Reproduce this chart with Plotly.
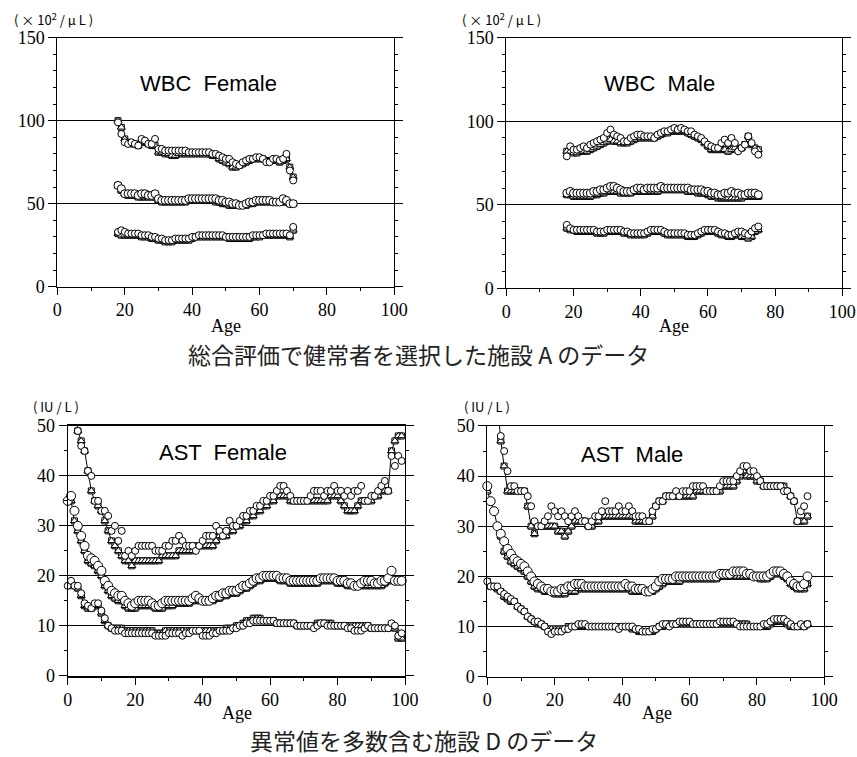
import plotly.graph_objects as go

N = None
# ---------------- WBC Female (facility A) ----------------
wbc_f_age = list(range(18, 71))
wbc_f_up_c = [99,92,87,86,87,86,85,89,88,86,86,89,83,83,82,82,82,82,82,82,82,81,81,81,81,81,81,81,80,80,79,78,77,77,75,74,73,75,76,77,77,78,78,77,75,75,77,77,76,77,80,70,64]
wbc_f_up_s = [100,96,89,87,86,86,85,87,87,86,85,85,81,81,80,80,79,79,80,80,80,80,80,80,80,80,80,80,79,79,77,76,75,74,72,72,73,74,75,76,77,77,77,77,76,76,76,76,75,76,77,72,66]
wbc_f_md_c = [61,59,56,56,56,56,55,56,56,55,55,56,53,52,52,52,52,52,52,52,52,53,53,53,53,53,53,53,53,53,52,52,51,51,50,50,49,49,50,51,51,52,52,52,52,52,51,51,51,53,52,50,50]
wbc_f_md_s = [61,58,56,55,55,55,54,54,54,54,54,54,52,51,51,51,51,51,51,51,51,52,52,52,52,52,52,52,52,51,51,50,50,49,49,49,49,49,49,50,50,51,51,51,51,51,51,51,51,51,51,50,50]
wbc_f_lo_c = [33,34,33,32,32,32,32,31,31,31,30,30,29,29,28,28,28,29,29,29,29,29,30,30,31,31,31,31,31,31,31,31,30,30,30,30,30,30,30,30,31,31,31,31,32,32,32,32,32,32,32,31,36]
wbc_f_lo_s = [32,31,31,31,31,31,31,30,30,30,29,29,28,28,27,27,27,28,28,28,28,28,29,30,30,30,30,30,30,30,30,30,30,29,29,29,29,29,29,29,30,30,30,31,31,31,31,31,31,31,31,30,34]

# ---------------- WBC Male (facility A) ----------------
wbc_m_age = list(range(18, 76))
wbc_m_up_c = [79,85,83,83,84,85,84,86,87,88,89,90,93,95,92,91,90,88,88,90,91,92,92,91,91,91,90,92,93,94,94,95,96,95,96,95,94,94,92,91,90,88,86,85,84,84,87,89,87,90,87,82,84,86,91,87,82,80]
wbc_m_up_s = [82,82,81,81,82,82,82,83,84,85,86,87,88,89,88,88,87,87,87,88,89,90,90,90,90,90,90,91,92,93,93,94,94,94,94,94,93,92,91,90,89,87,85,83,83,83,83,83,82,83,84,83,84,86,91,86,84,83]
wbc_m_md_c = [57,58,57,57,57,57,57,57,58,58,59,59,60,61,61,60,59,58,58,58,59,60,60,59,60,60,60,60,61,60,60,60,60,60,60,60,60,59,59,59,59,58,58,57,57,56,56,57,57,58,57,57,56,56,57,57,57,56]
wbc_m_md_s = [56,56,55,55,55,55,55,55,56,56,57,57,58,58,58,58,57,57,57,57,58,58,58,58,58,58,58,58,59,59,59,59,59,59,59,59,58,58,58,57,57,57,56,55,55,54,54,54,54,54,54,54,54,55,55,55,55,55]
wbc_m_lo_c = [38,36,35,35,35,35,35,35,35,34,34,34,35,35,35,35,35,34,34,33,33,33,33,33,34,35,35,35,35,34,33,33,33,33,33,33,32,32,32,33,34,35,35,35,35,34,33,33,32,32,33,34,34,33,32,34,36,37]
wbc_m_lo_s = [36,35,35,34,34,34,34,34,34,33,33,33,34,34,34,34,34,33,33,32,32,32,32,32,33,34,34,34,34,33,32,32,32,32,32,32,31,31,31,32,33,34,34,34,34,33,32,32,31,31,32,32,31,31,30,31,34,35]

# ---------------- AST Female (facility D) ----------------
ast_f_age = list(range(0, 100))
ast_f_up_c = [N,N,N,49,46,45,41,40,35,35,33,33,32,29,30,27,29,24,25,24,25,26,26,26,26,26,25,25,25,26,26,27,27,28,27,26,26,26,25,26,27,28,28,28,30,29,28,29,31,30,30,31,32,32,33,33,34,34,35,35,36,36,37,38,38,37,36,35,35,35,35,35,36,37,37,37,36,37,37,38,37,37,36,37,36,37,37,38,35,35,36,36,37,38,39,37,44,42,44,43]
ast_f_up_s = [N,N,55,49,47,45,41,37,35,34,33,31,29,27,26,25,24,23,23,22,23,23,23,23,23,23,23,23,24,24,24,24,24,25,25,25,25,25,26,26,26,26,26,26,27,28,28,28,29,29,30,30,31,31,32,32,33,33,34,34,35,35,36,36,36,36,35,35,35,35,35,35,35,35,35,35,35,35,36,36,36,35,34,33,33,33,34,35,35,35,35,36,36,37,37,37,45,47,48,48]
ast_f_md_c = [35,36,33,30,28,26,24,23.5,23,22,21,19,18,17,16.5,16,16,15,14.5,14,14.5,15,15,15,15,14.5,14,14,14.5,15,15,15,15,15,15,15,15,15.5,16,15.5,15,15,15,15.5,16,16,16.5,16.5,17,17,17,17.5,18,18,18.5,19,19.5,19.5,20,20,20,20,20,19.5,19.5,19.5,19,19,19,19,19,19,19,19,19,19.5,19.5,19.5,19.5,19.5,19,19,19,18.5,18.5,18,18,18.5,19,19,19,18.5,18.5,19,19,19.5,21,19,19,19]
ast_f_md_s = [35,35,31,29,27,25,23,22.5,22,21,20,18,17,16,15.5,15,15,14,13.5,13.5,13.5,14,14,14,14,14,13.5,13.5,13.5,14,14,14,14.5,14.5,14.5,14.5,14.5,15,15,15,15,15,15,15,15.5,15.5,16,16,16.5,16.5,16.5,17,17.5,17.5,18,18.5,19,19,19.5,19.5,19.5,19.5,19.5,19,19,19,18.5,18.5,18.5,18.5,18.5,18.5,18.5,18.5,18.5,19,19,19,19,19,18.5,18.5,18.5,18,18,18,18,18,18,18,18,18,18,18,18.5,19,19,19,19,19]
ast_f_lo_c = [18,19,18,18,16.5,14.5,14,13.5,14.5,14.5,13,11.5,10,9.5,9,9,9,8.5,8.5,8.5,8.5,8.5,8.5,8.5,8.5,8.5,8,8,8,8,8.5,8.5,8.5,8.5,8,8.5,8.5,9,9,9,8,8,8,8.5,8.5,9,9,9,9,9.5,9.5,10,10,10.5,10.5,11,11,11,11,11,11,11,10.5,10.5,10.5,10.5,10.5,10.5,10,10,10,10,10,9.5,10,10.5,10.5,10,10,10,10,10,10,9.5,9.5,9,9,9,9.5,10,9.5,9.5,9.5,9.5,9.5,9.5,10.5,10,8,8.5]
ast_f_lo_s = [18,18.5,18,17.5,16,14,13.5,13.5,14,14,12.5,11,10,9.5,9.5,9.5,9.5,9,9,9,9,9,9,9,9,9,8.5,8.5,8.5,9,9,9,9,9,9,9,9,9,9,9,9,9,9,9,9,9,9,9.5,9.5,9.5,10,10,10.5,11,11,11.5,11.5,11.5,11,11,11,11,10.5,10.5,10.5,10.5,10.5,10.5,10,10,10,10,10,10,10.5,10.5,10.5,10.5,10.5,10,10,10,10,10,10,10,10,10,10,10,9.5,9.5,9.5,9.5,9.5,9.5,10,9.5,7.5,7.5]

# ---------------- AST Male (facility D) ----------------
ast_m_age = list(range(0, 96))
ast_m_up_c = [N,N,N,N,48,45,41,38,38,37,37,37,36,34,31,30,30,31,32,34,33,32,33,32,31,32,33,32,31,31,30,31,32,32,33,35,33,33,33,34,33,33,34,33,32,32,32,31,31,33,34,35,35,36,36,36,37,36,37,37,37,38,38,38,38,37,37,37,37,38,39,39,39,39,40,41,42,42,41,41,40,39,38,38,38,38,38,38,37,37,36,35,31,33,34,36]
ast_m_up_s = [N,N,N,55,47,42,37,37,37,37,37,37,34,30,28.5,30,30,30,30,30,30,29,29,28,29,30,31,31,31,31,30,30,31,31,32,32,32,32,32,32,32,32,32,32,31,31,31,31,31,32,34,35,35,36,36,36,36,36,36,36,36,36,37,37,37,37,37,37,37,37,38,38,38,38,39,40,41,40,40,40,39,39,38,38,38,38,38,38,38,37,36,35,31,31,31,32]
ast_m_md_c = [38,35,33,30,28.5,27,25.5,24.5,23.5,23,22.5,22,21,20,19,18.5,18,17.5,17.5,17,17,17,17.5,17.5,18,18,18.5,18.5,18.5,18,18,18,18,18,18,18,18,18,18,18,18,18.5,18,18,17.5,17.5,17.5,17,17,17.5,18,19,19.5,19.5,19.5,19.5,20,20,20,20,20,20,20,20,20,20,20,20,20,20.5,20.5,20.5,20.5,21,21,21,21,20.5,20.5,20,20,20,20,20,20.5,21,21,21,20.5,20,19,18.5,18,18,18.5,20]
ast_m_md_s = [37,35,33,30,28,25,24,23,22.5,22,21.5,21,20,19,18,17.5,17.5,17,17,17,16.5,16.5,16.5,16.5,17,17,17,17.5,17.5,17.5,17.5,17.5,17.5,17.5,17.5,17.5,17.5,17.5,17.5,17.5,17.5,17.5,17.5,17,17,17,17,17,17,17,17.5,18,18.5,19,19,19,19,19,19.5,19.5,19.5,19.5,19.5,19.5,19.5,19.5,19.5,19.5,19.5,20,20,20,20,20,20,20,20,20,20,20,20,19.5,19.5,19.5,20,20.5,20.5,20.5,20,19.5,18.5,18,17.5,17.5,17.5,18.5]
ast_m_lo_c = [19,18,18,18,17,16.5,16,15.5,15,14,13.5,13,12,11.5,11,11,10.5,10,9,8.5,9,9,9,9.5,9.5,10,10,10.5,10.5,10.5,10,10,10,10,10,10,10,10,10,9.5,10,10,10,10,9.5,9.5,9,9,9,9.5,9.5,10,10.5,10.5,10,10.5,10.5,11,11,11,11,10.5,10.5,10.5,10.5,10.5,10.5,10.5,10.5,11,11,11,11,11,10.5,10,10,10,10,10,10,10,10.5,10.5,11,11.5,11.5,11.5,11.5,11,10.5,10,10,10.5,10,10.5]
ast_m_lo_s = [19,18,18,17.5,17,16,15.5,15,15,14,13.5,13,12,11.5,11,10.5,10.5,10,9.5,9.5,9.5,9.5,9.5,9.5,10,10,10,10,10,10,10,10,10,10,10,10,10,10,10,10,10,10,10,9.5,9.5,9,9,9,9,9,9.5,10,10,10.5,10.5,10.5,10.5,10.5,10.5,10.5,10.5,10.5,10.5,10.5,10.5,10.5,10.5,10.5,10.5,10.5,10.5,10.5,10.5,10.5,10.5,10.5,10.5,10.5,10,10,10,10,10,10,10.5,11,11,11.5,11,10.5,10,10,10,10,10,10.5]

panel_titles = ["WBC  Female", "WBC  Male", "AST  Female", "AST  Male"]
unit_wbc = "( × 10<sup>2</sup> / μ L )"
unit_ast = "( IU / L )"
section_titles = ["総合評価で健常者を選択した施設 A のデータ", "異常値を多数含む施設 D のデータ"]
x_ticks = [0, 20, 40, 60, 80, 100]

panels = [
    dict(age=wbc_f_age, curves=[(wbc_f_up_c, wbc_f_up_s), (wbc_f_md_c, wbc_f_md_s), (wbc_f_lo_c, wbc_f_lo_s)],
         yr=[0, 150], dt=50, mdt=10, dom_x=[0.0669, 0.4601], dom_y=[0.6213, 0.9502], csize=[7, 8, 7]),
    dict(age=wbc_m_age, curves=[(wbc_m_up_c, wbc_m_up_s), (wbc_m_md_c, wbc_m_md_s), (wbc_m_lo_c, wbc_m_lo_s)],
         yr=[0, 150], dt=50, mdt=10, dom_x=[0.5908, 0.9829], dom_y=[0.6191, 0.9502], csize=[7, 8, 7]),
    dict(age=ast_f_age, curves=[(ast_f_up_c, ast_f_up_s), (ast_f_md_c, ast_f_md_s), (ast_f_lo_c, ast_f_lo_s)],
         yr=[0, 50], dt=10, mdt=5, dom_x=[0.0790, 0.4726], dom_y=[0.1074, 0.4373], csize=[7, 9, 7]),
    dict(age=ast_m_age, curves=[(ast_m_up_c, ast_m_up_s), (ast_m_md_c, ast_m_md_s), (ast_m_lo_c, ast_m_lo_s)],
         yr=[0, 50], dt=10, mdt=5, dom_x=[0.5686, 0.9619], dom_y=[0.1061, 0.4373], csize=[7, 9, 7]),
]

fig = go.Figure()
tick_font = dict(family="Liberation Serif", size=18, color="black")
mk_line = dict(color="black", width=1)
axes = {}

for i, p in enumerate(panels):
    n = i + 1
    xa = "x" if n == 1 else f"x{n}"
    ya = "y" if n == 1 else f"y{n}"
    for (cvals, svals), cs in zip(p["curves"], p["csize"]):
        fig.add_trace(go.Scatter(x=p["age"], y=svals, mode="lines+markers", xaxis=xa, yaxis=ya,
                                 line=dict(color="black", width=1),
                                 marker=dict(symbol="square", size=6, color="white", line=mk_line)))
        fig.add_trace(go.Scatter(x=p["age"], y=svals, mode="markers", xaxis=xa, yaxis=ya,
                                 marker=dict(symbol="triangle-up", size=7, color="white", line=mk_line)))
        fig.add_trace(go.Scatter(x=p["age"], y=cvals, mode="markers", xaxis=xa, yaxis=ya, cliponaxis=False,
                                 marker=dict(symbol="circle", size=cs, color="white", line=mk_line)))
    xkey = "xaxis" if n == 1 else f"xaxis{n}"
    ykey = "yaxis" if n == 1 else f"yaxis{n}"
    axes[xkey] = dict(domain=p["dom_x"], range=[0, 100], anchor=ya, tickvals=x_ticks, automargin=False,
                      showline=True, linecolor="black", linewidth=2 if n == 3 else 1, mirror=True,
                      ticks="outside", ticklen=7, tickcolor="black", tickwidth=1,
                      minor=dict(dtick=10, ticks="outside", ticklen=3, tickcolor="black", showgrid=False),
                      showgrid=False, zeroline=False, tickfont=tick_font)
    axes[ykey] = dict(domain=p["dom_y"], range=p["yr"], anchor=xa, dtick=p["dt"], tick0=0, automargin=False,
                      showline=True, linecolor="black", linewidth=1, mirror="ticks",
                      ticks="outside", ticklen=8, tickcolor="black", tickwidth=1,
                      minor=dict(dtick=p["mdt"], ticks="outside", ticklen=3, tickcolor="black", showgrid=False),
                      showgrid=True, gridcolor="black", gridwidth=1, zeroline=False, tickfont=tick_font)

ann = []
title_pos = [(45, 122.7), (45.7, 122.7), (46, 44.6), (43, 44.4)]
for i, (t, (tx, ty)) in enumerate(zip(panel_titles, title_pos)):
    n = i + 1
    ann.append(dict(text=t, x=tx, y=ty, xref="x" if n == 1 else f"x{n}", yref="y" if n == 1 else f"y{n}",
                    showarrow=False, xanchor="center", yanchor="middle",
                    font=dict(family="Liberation Sans", size=22, color="black")))
for txt, px, py in [(unit_wbc, 53.5, 19), (unit_wbc, 501.5, 19), (unit_ast, 56, 406), (unit_ast, 487, 406)]:
    ann.append(dict(text=txt, x=px / 857, y=1 - py / 757, xref="paper", yref="paper", showarrow=False,
                    xanchor="center", yanchor="middle",
                    font=dict(family="Noto Sans CJK JP", size=13, color="black")))
for px, py in [(226, 326), (674, 326), (237, 713), (657, 713)]:
    ann.append(dict(text="Age", x=px / 857, y=1 - py / 757, xref="paper", yref="paper", showarrow=False,
                    xanchor="center", yanchor="middle",
                    font=dict(family="Liberation Serif", size=18, color="black")))
for txt, px, py in [(section_titles[0], 418, 354), (section_titles[1], 424, 740)]:
    ann.append(dict(text=txt, x=px / 857, y=1 - py / 757, xref="paper", yref="paper", showarrow=False,
                    xanchor="center", yanchor="middle",
                    font=dict(family="Noto Sans CJK JP", size=23, color="#222")))

fig.update_layout(width=857, height=757, margin=dict(l=0, r=0, t=0, b=0, autoexpand=False),
                  paper_bgcolor="white", plot_bgcolor="white", showlegend=False, annotations=ann, **axes)

fig.write_html("out.html")
